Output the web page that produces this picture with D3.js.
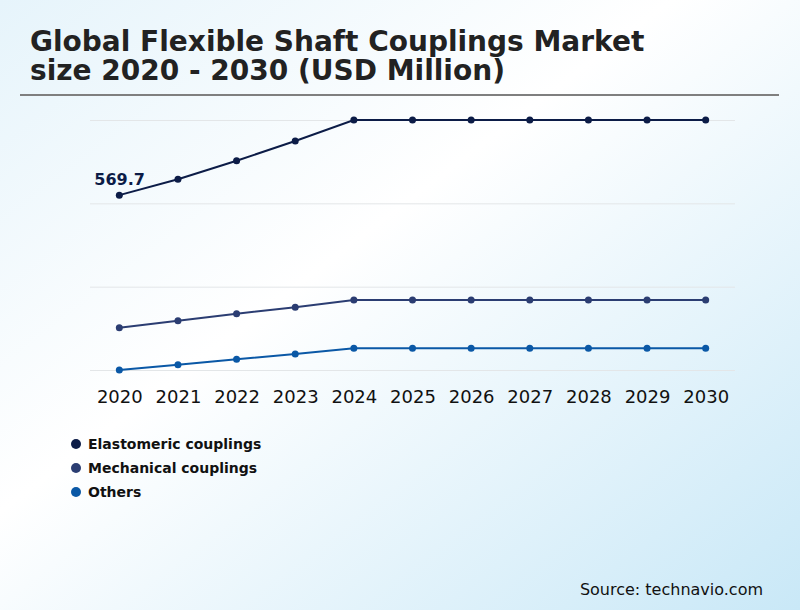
<!DOCTYPE html>
<html>
<head>
<meta charset="utf-8">
<script src="https://cdn.jsdelivr.net/npm/d3@7"></script>
<style>
  html, body { margin: 0; padding: 0; }
  body { width: 800px; height: 610px; overflow: hidden; }
  text { font-family: "DejaVu Sans", sans-serif; }
</style>
</head>
<body>
<svg id="chart" width="800" height="610"></svg>
<script>
// DATA
const years = ['2020', '2021', '2022', '2023', '2024', '2025', '2026', '2027', '2028', '2029', '2030'];
const seriesNames = ['Elastomeric couplings', 'Mechanical couplings', 'Others'];
const elastomeric = [569.7, 607.7, 652.3, 699.6, 750, 750, 750, 750, 750, 750, 750];
const mechanical = [251.5, 268.3, 285.1, 300.5, 318, 318, 318, 318, 318, 318, 318];
const others = [150, 162.7, 175.7, 188.4, 202.1, 202.1, 202.1, 202.1, 202.1, 202.1, 202.1];
const gridValues = [150, 350, 550, 750];
const colors = ['#0c1c47', '#2b3d72', '#0a58a6'];

const svg = d3.select('#chart');

// background gradient
const defs = svg.append('defs');
const grad = defs.append('linearGradient')
    .attr('id', 'bg')
    .attr('x1', '0').attr('y1', '0')
    .attr('x2', '1').attr('y2', '1');
grad.append('stop').attr('offset', '0').attr('stop-color', '#e6f4fb');
grad.append('stop').attr('offset', '0.42').attr('stop-color', '#ffffff');
grad.append('stop').attr('offset', '1').attr('stop-color', '#c9e8f7');

svg.append('rect')
    .attr('width', 800).attr('height', 610)
    .attr('fill', 'url(#bg)');

// title
const title = svg.append('text')
    .attr('x', 30)
    .attr('fill', '#222')
    .style('font-weight', 'bold')
    .style('font-size', '28px');
title.append('tspan').attr('x', 30).attr('y', 51).text('Global Flexible Shaft Couplings Market');
title.append('tspan').attr('x', 30).attr('y', 80).text('size 2020 - 2030 (USD Million)');

svg.append('line')
    .attr('x1', 20).attr('x2', 779)
    .attr('y1', 95).attr('y2', 95)
    .attr('stroke', '#7f7f7f')
    .attr('stroke-width', 2);

// scales
const x = d3.scalePoint()
    .domain(years)
    .range([90, 735])
    .padding(0.5);

const y = d3.scaleLinear()
    .domain([150, 750])
    .range([370, 120]);

// gridlines
svg.append('g')
    .attr('transform', 'translate(90,0)')
    .call(d3.axisLeft(y).tickValues(gridValues).tickSize(-645).tickFormat(''))
    .call(g => g.select('.domain').remove())
    .call(g => g.selectAll('.tick line').attr('stroke', '#e3e6e8').attr('stroke-width', 1));

// x axis labels
svg.append('g')
    .attr('transform', 'translate(0,370)')
    .call(d3.axisBottom(x).tickSize(0).tickPadding(20))
    .call(g => g.select('.domain').remove())
    .call(g => g.selectAll('text')
        .attr('fill', '#111')
        .style('font-family', '"DejaVu Sans", sans-serif')
        .style('font-size', '18px'));

// lines
const allSeries = [elastomeric, mechanical, others];
const line = d3.line()
    .x((d, i) => x(years[i]))
    .y(d => y(d));

allSeries.forEach((vals, s) => {
    svg.append('path')
        .datum(vals)
        .attr('fill', 'none')
        .attr('stroke', colors[s])
        .attr('stroke-width', 2)
        .attr('d', line);

    svg.append('g')
        .selectAll('circle')
        .data(vals)
        .enter().append('circle')
        .attr('cx', (d, i) => x(years[i]))
        .attr('cy', d => y(d))
        .attr('r', 3.5)
        .attr('fill', colors[s]);
});

// first value label
svg.append('text')
    .attr('x', x(years[0]) - 25)
    .attr('y', y(elastomeric[0]) - 10)
    .attr('fill', '#0c1c47')
    .style('font-weight', 'bold')
    .style('font-size', '16px')
    .text(elastomeric[0]);

// legend
const legend = svg.append('g');
seriesNames.forEach((name, i) => {
    const ly = 444 + i * 24;
    legend.append('circle')
        .attr('cx', 76).attr('cy', ly)
        .attr('r', 5)
        .attr('fill', colors[i]);
    legend.append('text')
        .attr('x', 88).attr('y', ly + 5)
        .attr('fill', '#111')
        .style('font-weight', 'bold')
        .style('font-size', '14px')
        .text(name);
});

// source
svg.append('text')
    .attr('x', 763).attr('y', 595)
    .attr('text-anchor', 'end')
    .attr('fill', '#111')
    .style('font-size', '16px')
    .text('Source: technavio.com');
</script>
</body>
</html>
